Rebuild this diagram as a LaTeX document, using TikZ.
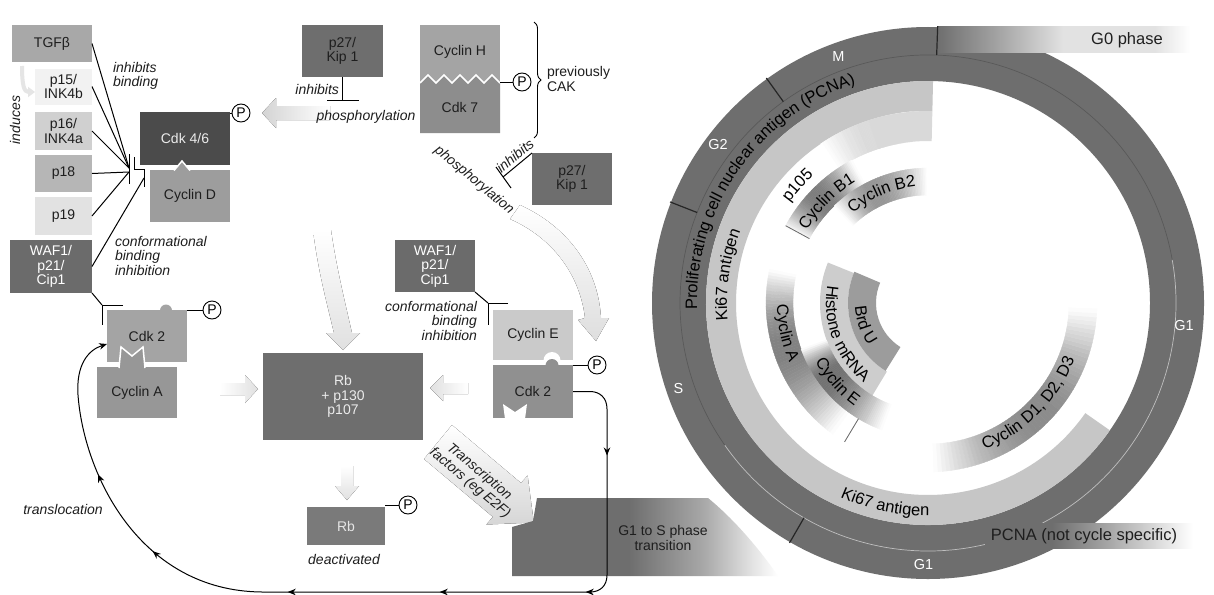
\documentclass[tikz,border=0pt]{standalone}
\usepackage{fontspec}
\setmainfont{Liberation Sans}
\usetikzlibrary{arrows.meta,decorations.text,decorations.markings,decorations.pathreplacing}
\definecolor{txtc}{HTML}{1E1E1E}
\definecolor{ringc}{HTML}{6E6E6E}
\definecolor{tgfc}{HTML}{A8A8A8}
\definecolor{p15c}{HTML}{F2F2F2}
\definecolor{p16c}{HTML}{D0D0D0}
\definecolor{p18c}{HTML}{B6B6B6}
\definecolor{p19c}{HTML}{E2E2E2}
\definecolor{wafc}{HTML}{6B6B6B}
\definecolor{cdkfc}{HTML}{4B4B4B}
\definecolor{cycdc}{HTML}{9D9D9D}
\definecolor{p27c}{HTML}{6E6E6E}
\definecolor{cychc}{HTML}{A4A4A4}
\definecolor{cdk7c}{HTML}{8D8D8D}
\definecolor{cdk2lc}{HTML}{A4A4A4}
\definecolor{cycac}{HTML}{979797}
\definecolor{rbc}{HTML}{6E6E6E}
\definecolor{rbsc}{HTML}{7A7A7A}
\definecolor{cycec}{HTML}{CACACA}
\definecolor{cdk2rc}{HTML}{909090}
\definecolor{kic}{HTML}{C6C6C6}
\definecolor{histc}{HTML}{CDCDCD}
\definecolor{brduc}{HTML}{9C9C9C}
\definecolor{gsm}{HTML}{A8A8A8}
\definecolor{gsl}{HTML}{E2E2E2}
\pgfdeclarehorizontalshading{gtos}{100bp}{color(0bp)=(ringc); color(25bp)=(ringc); color(47bp)=(ringc); color(61bp)=(gsm); color(70bp)=(gsl); color(75bp)=(white); color(100bp)=(white)}
\pgfdeclarehorizontalshading{gzero}{100bp}{color(0bp)=(ringc); color(25bp)=(ringc); color(38bp)=(gsm); color(50bp)=(gsl); color(68bp)=(gsl); color(75bp)=(white); color(100bp)=(white)}
\pgfdeclarehorizontalshading{gpcna}{100bp}{color(0bp)=(ringc); color(25bp)=(ringc); color(41bp)=(ringc); color(55bp)=(gsm); color(68bp)=(gsl); color(75bp)=(white); color(100bp)=(white)}
\newcommand{\lfnt}{\fontsize{14}{14.5}\selectfont}
\newcommand{\rfnt}{\fontsize{16.5}{19}\selectfont}
\newcommand{\gradarc}[6]{%
  \foreach \k in {0,...,59}{%
    \pgfmathsetmacro{\ta}{(#3)+((#4)-(#3))*\k/60}%
    \pgfmathsetmacro{\tb}{(#3)+((#4)-(#3))*(\k+1)/60}%
    \pgfmathsetmacro{\tm}{(\ta+\tb)/2}%
    \pgfmathsetmacro{\ua}{(\tm-(#3))/((#5)-(#3))}%
    \pgfmathsetmacro{\ub}{((#4)-\tm)/((#4)-(#5))}%
    \pgfmathsetmacro{\uu}{min(\ua,\ub)}%
    \pgfmathtruncatemacro{\vv}{(#6)*sin(90*\uu)}%
    \fill[black!\vv, draw=black!\vv, line width=0.3pt] (\ta:#1) arc[start angle=\ta, end angle=\tb, radius=#1] -- (\tb:#2) arc[start angle=\tb, end angle=\ta, radius=#2] -- cycle;
  }}
\newcommand{\ringtext}[4]{\path[decorate,decoration={text along path,text align=center,text={|\rfnt|#4}}] (#2:#1) arc[start angle=#2,end angle=#3,radius=#1];}
\newcommand{\band}[5]{\fill[#5] (#3:#1) arc[start angle=#3,end angle=#4,radius=#1] -- (#4:#2) arc[start angle=#4,end angle=#3,radius=#2] -- cycle;}
\tikzset{stl/.tip={Stealth[length=8pt,width=6.5pt]}}
\begin{document}
\begin{tikzpicture}[x=1pt,y=-1pt,
  bx/.style={inner sep=0pt, outer sep=0pt, align=center, font=\lfnt, text=txtc},
  lab/.style={inner sep=0pt, outer sep=0pt, font=\lfnt\itshape, text=txtc},
  ln/.style={line width=1pt, draw=black},
  pc/.style={circle, draw=black, line width=0.9pt, fill=white, minimum size=18pt, inner sep=0pt, font=\lfnt},
  ph/.style={inner sep=0pt, font=\fontsize{14.5}{16}\selectfont, text=white},
  tk/.style={line width=1.2pt, draw=black!85}
]
\fill[white] (0,0) rectangle (1214,594);
\useasboundingbox (0,0) rectangle (1214,594);

% ---------- faint arrows ----------
\fill[left color=black!17, right color=white] (262,113) -- (276,98) -- (276,106) -- (330,106) -- (330,120) -- (276,120) -- (276,128) -- cycle;
\fill[top color=white, bottom color=black!12] (313,230) .. controls (318,270) and (326,300) .. (334,333) -- (326,333) -- (343,350) -- (360,333) -- (352,333) .. controls (344,298) and (336,265) .. (331,230) -- cycle;
\fill[top color=white, bottom color=black!13] (520,205) .. controls (566,226) and (598,266) .. (601,318) -- (609,318) -- (596,341) -- (578,320) -- (585,318) .. controls (580,275) and (553,238) .. (510,219) -- cycle;
\fill[left color=white, right color=black!12] (220,383) -- (245,383) -- (245,375) -- (258,389) -- (245,403) -- (245,395) -- (220,395) -- cycle;
\fill[left color=black!12, right color=white] (430,388) -- (443,375) -- (443,383) -- (468,383) -- (468,394) -- (443,394) -- (443,401) -- cycle;
\fill[top color=white, bottom color=black!12] (341,466) -- (353,466) -- (353,486) -- (359,486) -- (347,500) -- (335,486) -- (341,486) -- cycle;
\fill[top color=white, bottom color=black!16] (452,425) -- (521,483) -- (527.6,475.5) -- (533.8,522.5) -- (486.4,524.5) -- (492.9,516.9) -- (424,459) -- cycle;

% ---------- left boxes ----------
\node[bx, fill=tgfc, minimum width=80pt, minimum height=37pt] (tgf) at (52,43.5) {TGFβ};
\node[bx, fill=p15c, minimum width=57pt, minimum height=36pt] (p15) at (63.5,86.5) {p15/\\INK4b};
\node[bx, fill=p16c, minimum width=57pt, minimum height=38pt] (p16) at (63.5,131) {p16/\\INK4a};
\node[bx, fill=p18c, minimum width=57pt, minimum height=37pt] (p18) at (63.5,173.5) {p18};
\node[bx, fill=p19c, minimum width=57pt, minimum height=38pt] (p19) at (63.5,216) {p19};
\node[bx, fill=wafc, text=white, minimum width=82pt, minimum height=53pt] (wafl) at (51,266.5) {WAF1/\\p21/\\Cip1};

\coordinate (ind1) at (22,66);
\coordinate (ind2) at (35,92);
\draw[line width=4pt, black!10, -{Triangle[length=7pt,width=10pt]}] (ind1) .. controls (22,85) and (24,92) .. (ind2);
\node[lab, rotate=90] (induces) at (15,120) {induces};

\node[bx, fill=cdkfc, text=white!92!black, minimum width=90pt, minimum height=53pt] (cdk46) at (185,138.5) {Cdk 4/6};
\node[bx, fill=cycdc, minimum width=80pt, minimum height=52pt] (cycd) at (190,196) {Cyclin D};
\filldraw[fill=cycdc, draw=white, line width=1.5pt] (174,170.5) -- (182,161) -- (190,170.5);
\node[pc] (pa) at (241,113) {P};
\draw[ln] (pa) -- (pa -| cdk46.east);

\coordinate (ja) at (129,168);
\coordinate (jb) at (129,172);
\coordinate (jc) at (144,178);
\draw[ln] (tgf.east) -- (ja);
\draw[ln] (p15.east) -- (ja);
\draw[ln] (p16.east) -- (ja);
\draw[ln] (p18.east) -- (jb);
\draw[ln] (p19.east) -- (jb);
\draw[ln] (wafl.east) -- (jc);
\draw[ln] (129,154) -- (129,184);
\draw[ln] (134,157) -- (134,169) -- (144,169) -- (144,187);
\node[lab, anchor=north west, align=left] (lib) at (113,62) {inhibits\\binding};
\node[lab, anchor=north west, align=left] (lcbi) at (115,236) {conformational\\binding\\inhibition};

% ---------- top middle ----------
\node[bx, fill=p27c, minimum width=81pt, minimum height=52pt] (p27a) at (342.5,51) {p27/\\Kip 1};
\coordinate (ti1) at (342.5,100);
\draw[ln] (p27a.south) -- (ti1);
\draw[ln] (327,100) -- (359,100);
\node[lab, anchor=east] (linh1) at (339,89) {inhibits};
\node[lab] (lphos1) at (366,117) {phosphorylation};

\node[bx, fill=cychc, minimum width=80pt, minimum height=54pt] (cych) at (460,52) {Cyclin H};
\fill[cychc] (420,78) rectangle (500,84);
\fill[cdk7c] (420,133) -- (420,83) -- (428,75) -- (436,83) -- (444,75) -- (452,83) -- (460,75) -- (468,83) -- (476,75) -- (484,83) -- (492,75) -- (500,83) -- (500,133) -- cycle;
\node[bx, minimum width=80pt, minimum height=53pt] (cdk7) at (460,107) {Cdk 7};
\draw[white, line width=1.6pt] (420,83) -- (428,75) -- (436,83) -- (444,75) -- (452,83) -- (460,75) -- (468,83) -- (476,75) -- (484,83) -- (492,75) -- (500,83);
\node[pc] (pb) at (522,82) {P};
\draw[ln] (pb) -- (pb -| cdk7.east);
\draw[decorate, decoration={brace, amplitude=7pt}, line width=0.9pt] (534,22) -- (534,138);
\node[bx, anchor=west, align=left] (prev) at (547,79) {previously\\CAK};

\node[lab, rotate=-40] (lphos2) at (474,180) {phosphorylation};
\node[bx, fill=p27c, minimum width=80pt, minimum height=52pt] (p27b) at (572,179) {p27/\\Kip 1};
\coordinate (ti2) at (503,177);
\draw[ln] (p27b.north west) -- (ti2);
\draw[ln] (496,167) -- (511,188);
\node[lab, rotate=40] (linh2) at (515,156) {inhibits};

% ---------- lower middle ----------
\node[bx, fill=cdk2lc, minimum width=80pt, minimum height=52pt] (cdk2l) at (147,336) {Cdk 2};
\fill[cdk2lc] (160,310.5) arc[start angle=180, end angle=360, radius=6];
\node[bx, fill=cycac, minimum width=80pt, minimum height=51pt] (cyca) at (137,392.5) {Cyclin A};
\filldraw[fill=cycac, draw=white, line width=1.5pt] (119,368) -- (121,347) -- (132,356) -- (143,347) -- (145,368);
\node[pc] (pc1) at (212,310) {P};
\draw[ln] (pc1) -- (pc1 -| cdk2l.east);
\coordinate (tw1) at (102,305);
\draw[ln] (wafl.south east) -- (tw1);
\draw[ln] (123,305) -- (102,305) -- (102,325);

\node[bx, fill=rbc, text=white!92!black, minimum width=160pt, minimum height=87pt] (rb) at (343,396.5) {Rb\\+ p130\\p107};
\node[bx, fill=rbsc, text=white!90!black, minimum width=78pt, minimum height=38pt] (rbs) at (346,526) {Rb};
\node[pc] (pd) at (408,505) {P};
\draw[ln] (pd) -- (pd -| rbs.east);
\node[lab] (ldeact) at (344,559) {deactivated};

\node[bx, fill=wafc, text=white, minimum width=80pt, minimum height=52pt] (wafr) at (435,266) {WAF1/\\p21/\\Cip1};
\node[bx, fill=cycec, minimum width=80pt, minimum height=50pt] (cyce) at (533,335) {Cyclin E};
\fill[white] (543.5,360.5) arc[start angle=180, end angle=360, radius=8.5];
\node[bx, fill=cdk2rc, minimum width=80pt, minimum height=53pt] (cdk2r) at (533,391.5) {Cdk 2};
\fill[cdk2rc] (545.5,365.5) arc[start angle=180, end angle=360, radius=6.5];
\fill[white] (505,419) -- (503,404) -- (515,412) -- (527,404) -- (525,419) -- cycle;
\node[pc] (pe) at (597,365) {P};
\draw[ln] (pe) -- (pe -| cdk2r.east);
\coordinate (tw2) at (488,303);
\draw[ln] (wafr.south east) -- (tw2);
\draw[ln] (508,303) -- (488,303) -- (488,325);
\node[lab, anchor=north east, align=right] (lcbi2) at (477,301) {conformational\\binding\\inhibition};

\node[lab, rotate=-40, align=center] (ltf) at (474.5,477.5) {Transcription\\factors (eg E2F)};

\shade[shading=gtos] (537,498) -- (708,498) .. controls (735,520) and (760,550) .. (778,576) -- (512,576) -- (512,527) -- (533,521) -- cycle;
\node[bx] (g1s) at (663,538) {G1 to S phase\\transition};

\draw[ln, -stl, postaction={decorate}, decoration={markings,
  mark=at position 91pt with {\arrow{stl}},
  mark=at position 242pt with {\arrow{stl}},
  mark=at position 388pt with {\arrow{stl}},
  mark=at position 540pt with {\arrow{stl}},
  mark=at position 685pt with {\arrow{stl}},
  mark=at position 780pt with {\arrow{stl}}}]
  (cdk2r.east) -- (590,391.5) .. controls (600,391.5) and (607,398) .. (607,409) -- (607,575) .. controls (607,586) and (600,592) .. (590,592) -- (262,592) .. controls (140,591) and (84,475) .. (78,395) .. controls (76,365) and (88,350) .. ([yshift=-8pt]cdk2l.west);
\node[lab] (ltrans) at (63,509) {translocation};

% ---------- ring ----------
\begin{scope}[shift={(928,303)}, y=1pt]
  \fill[ringc, even odd rule] (0,0) circle (276) (0,0) circle (222);
  \band{192}{222}{88.7}{325}{kic}
  \gradarc{162}{192}{95}{124}{108}{15}
  \band{162}{192}{88.7}{108}{black!15}
  \band{80}{108}{158}{239}{histc}
  \band{52}{80}{157}{238}{brduc}
  \gradarc{141}{169}{-88}{-2}{-45}{46}
  \gradarc{135}{162}{168}{234}{197}{50}
  \gradarc{108}{135}{200}{250}{216}{56}
  \gradarc{135}{162}{152}{118}{136}{52}
  \gradarc{108}{135}{134}{90}{116}{42}
  \draw[black!65, line width=0.7pt] (10:248) arc[start angle=10, end angle=215, radius=248];
  \draw[black!25, line width=0.7pt] (215:248) arc[start angle=215, end angle=370, radius=248];
  \draw[black!60, line width=0.8pt] (151.5:135) -- (151.5:162);
  \draw[black!60, line width=0.8pt] (239:135) -- (239:162);
\end{scope}

\shade[shading=gzero] (937,27) rectangle (1190,53);
\node[inner sep=0pt, font=\rfnt, text=txtc] (g0) at (1127,40) {G0 phase};
\shade[shading=gpcna] (985,523) rectangle (1193,548);
\node[inner sep=0pt, font=\rfnt, text=txtc] (pcna) at (1084,536) {PCNA (not cycle specific)};

\begin{scope}[shift={(928,303)}, y=1pt]
  \draw[tk] (88:248) -- (88:277);
  \draw[tk] (125.7:248) -- (125.7:277);
  \draw[tk] (158.6:248) -- (158.6:277);
  \draw[tk] (240:248) -- (240:277);
  \node[ph] (lm) at (110:262) {M};
  \node[ph] (lg2) at (143:263) {G2};
  \node[ph] (ls) at (199:264) {S};
  \node[ph] (lg1a) at (269:262) {G1};
  \node[ph] (lg1b) at (-5:257) {G1};
  \ringtext{231}{188}{102}{Proliferating cell nuclear antigen (PCNA)}
  \ringtext{201}{200}{144}{Ki67 antigen}
  \ringtext{213}{230}{286}{Ki67 antigen}
  \ringtext{157}{-85}{-5}{Cyclin D1, D2, D3}
  \ringtext{151}{165}{219}{Cyclin A}
  \ringtext{127}{195}{247}{Cyclin E}
  \ringtext{102}{160}{241}{Histone mRNA}
  \ringtext{73}{175}{223}{Brd U}
  \ringtext{141}{160}{110}{Cyclin B1}
  \ringtext{171}{160}{116}{p105}
  \ringtext{117}{140}{86}{Cyclin B2}
\end{scope}
\end{tikzpicture}
\end{document}
